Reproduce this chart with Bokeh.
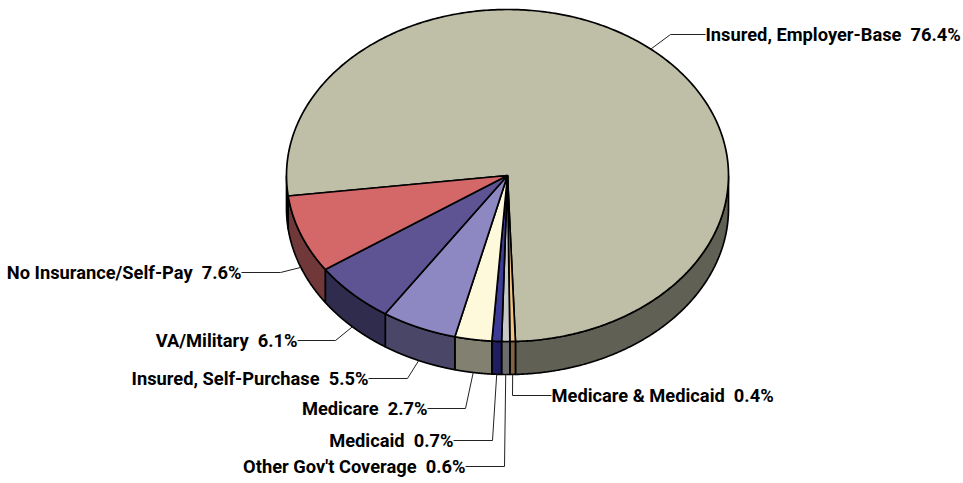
import numpy as np
from bokeh.plotting import figure
from bokeh.models import Range1d
from bokeh.core.properties import value
from bokeh.embed import file_html
from bokeh.resources import INLINE

# --- data (clockwise from the employer slice)
categories = ["Insured, Employer-Base", "Medicare & Medicaid", "Other Gov't Coverage", "Medicaid",
              "Medicare", "Insured, Self-Purchase", "VA/Military", "No Insurance/Self-Pay"]
shares = [76.4, 0.4, 0.6, 0.7, 2.7, 5.5, 6.1, 7.6]
top_colors = ["#BFBFA8", "#F0C484", "#C8C8C8", "#3C3C96", "#FFF9DC", "#8E88C2", "#5E5494", "#D46868"]
side_colors = ["#606054", "#806444", "#6C6C6C", "#1E1E60", "#828070", "#4A4668", "#302C4E", "#703838"]

# --- layout
CX, CY, RX, RY, DEPTH = 507.0, 175.0, 221.0, 166.0, 33.0
START = -97.1
label_end_x = [705, 551, 465, 453, 427, 368, 297, 241]
label_y = [34, 395, 466, 440, 408, 378, 340, 272]
elbow_x = [670, 512, 504, 492, 465, 407, 335, 280]

W, H = 963, 483
p = figure(width=W, height=H, x_range=Range1d(0, W), y_range=Range1d(H, 0),
           output_backend="svg", toolbar_location=None, min_border=0,
           outline_line_color=None, background_fill_color="white", border_fill_color="white")
p.axis.visible = False
p.grid.visible = False


def rim(deg, dy=0.0):
    t = np.radians(deg)
    return CX + RX * np.sin(t), CY - RY * np.cos(t) + dy


edges = START + np.concatenate([[0], np.cumsum(shares)]) * 3.6
top_x, top_y, side_x, side_y, side_c = [], [], [], [], []
for i in range(len(shares)):
    a0, a1 = edges[i], edges[i + 1]
    xs, ys = rim(np.linspace(a0, a1, 400))
    top_x.append(np.r_[CX, xs].tolist())
    top_y.append(np.r_[CY, ys].tolist())
    # the visible wall is the lower half of the rim: 90..270 degrees, modulo 360
    for shift in (-360, 0, 360):
        lo, hi = max(a0, 90 + shift), min(a1, 270 + shift)
        if hi > lo:
            wx, wy = rim(np.linspace(lo, hi, 300))
            side_x.append(np.r_[wx, wx[::-1]].tolist())
            side_y.append(np.r_[wy, (wy + DEPTH)[::-1]].tolist())
            side_c.append(side_colors[i])

p.patches(side_x, side_y, fill_color=side_c, line_color="black", line_width=1.7)
p.patches(top_x, top_y, fill_color=top_colors, line_color="black", line_width=1.7)

# leaders start at the middle of each slice's rim
for i, name in enumerate(categories):
    mid = (edges[i] + edges[i + 1]) / 2
    ax, ay = rim(mid, DEPTH if i else 0)
    p.line([ax, elbow_x[i], label_end_x[i]], [ay, label_y[i], label_y[i]], line_color="#222222", line_width=1)
    left = i == 0 or i == 1
    p.text([label_end_x[i]], [label_y[i]], text=[f"{name}\u00a0 {shares[i]}%"],
           text_font=value("Roboto"), text_font_size="18.3px", text_font_style="bold",
           text_color="black", text_align="left" if left else "right", text_baseline="middle")

open("out.html", "w").write(file_html(p, INLINE))
